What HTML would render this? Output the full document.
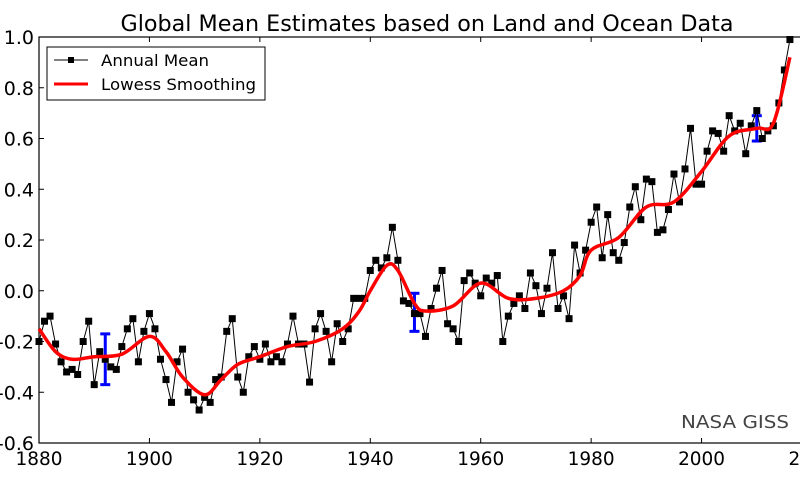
<!DOCTYPE html>
<html><head><meta charset="utf-8"><style>
html,body{margin:0;padding:0;background:#fff;}
svg{display:block;font-family:"DejaVu Sans","Liberation Sans",sans-serif;}
</style></head><body>
<svg id="chart" width="800" height="480" viewBox="0 0 800 480">
<text x="427" y="31" font-size="22" text-anchor="middle" textLength="613" lengthAdjust="spacingAndGlyphs">Global Mean Estimates based on Land and Ocean Data</text>
<g id="axes"></g>
<g id="err"></g>
<g id="annual"></g>
<g id="smooth"></g>
<text x="789" y="428" font-size="18" fill="#444" text-anchor="end" textLength="108" lengthAdjust="spacingAndGlyphs">NASA GISS</text>
<g>
<rect x="47" y="47" width="218" height="53" fill="#fff" stroke="#000" stroke-width="1"/>
<g>
<line x1="54" y1="60" x2="88" y2="60" stroke="#000" stroke-width="1"/>
<rect x="68" y="57" width="6" height="6" fill="#000"/>
<text x="101" y="66" font-size="16" textLength="108" lengthAdjust="spacingAndGlyphs">Annual Mean</text>
</g>
<g>
<line x1="54" y1="84" x2="88" y2="84" stroke="#f00" stroke-width="3"/>
<text x="101" y="90" font-size="16" textLength="155" lengthAdjust="spacingAndGlyphs">Lowess Smoothing</text>
</g>
</g>
</svg>
<script>
const annualStart = 1880;
const annualValues = [-0.20,-0.12,-0.10,-0.21,-0.28,-0.32,-0.31,-0.33,-0.20,-0.12,-0.37,-0.24,-0.27,-0.30,-0.31,-0.22,-0.15,-0.11,-0.28,-0.16,
-0.09,-0.15,-0.27,-0.35,-0.44,-0.28,-0.23,-0.40,-0.43,-0.47,-0.42,-0.44,-0.35,-0.34,-0.16,-0.11,-0.34,-0.40,-0.26,-0.22,
-0.27,-0.21,-0.28,-0.26,-0.28,-0.21,-0.10,-0.21,-0.21,-0.36,-0.15,-0.09,-0.16,-0.28,-0.13,-0.20,-0.15,-0.03,-0.03,-0.03,
0.08,0.12,0.09,0.13,0.25,0.12,-0.04,-0.05,-0.09,-0.09,-0.18,-0.07,0.01,0.08,-0.13,-0.15,-0.20,0.04,0.07,0.03,
-0.02,0.05,0.03,0.06,-0.20,-0.10,-0.05,-0.02,-0.07,0.07,0.02,-0.09,0.01,0.15,-0.07,-0.02,-0.11,0.18,0.07,0.16,
0.27,0.33,0.13,0.30,0.15,0.12,0.19,0.33,0.41,0.28,0.44,0.43,0.23,0.24,0.32,0.46,0.35,0.48,0.64,0.42,
0.42,0.55,0.63,0.62,0.55,0.69,0.63,0.66,0.54,0.65,0.71,0.60,0.63,0.65,0.74,0.87,0.99];
const lowessYears = [1880,1883,1886,1890,1895,1900,1903,1906,1910,1913,1916,1920,1925,1930,1935,1938,1940,1943,1945,1948,1950,1955,1960,1965,1970,1975,1978,1980,1985,1990,1995,2000,2005,2010,2013,2016];
const lowessValues = [-0.15,-0.24,-0.27,-0.26,-0.25,-0.18,-0.24,-0.34,-0.41,-0.35,-0.29,-0.26,-0.22,-0.20,-0.15,-0.08,0.00,0.10,0.08,-0.05,-0.08,-0.06,0.03,-0.03,-0.03,0.00,0.06,0.16,0.21,0.33,0.35,0.47,0.61,0.64,0.66,0.92];
const errYears = [1892,1948,2010];
const errLow = [-0.37,-0.16,0.59];
const errHigh = [-0.17,-0.01,0.69];
const xTicks = [1880,1900,1920,1940,1960,1980,2000,2020];
const yTicks = [-0.6,-0.4,-0.2,0.0,0.2,0.4,0.6,0.8,1.0];

const NS="http://www.w3.org/2000/svg";
const X0=39, X1=812, Y0=443, Y1=37;
function sx(v){return X0+(v-1880)/140*(X1-X0);}
function sy(v){return Y0-(v+0.6)/1.6*(Y0-Y1);}
function mk(tag,attrs,parent){const e=document.createElementNS(NS,tag);for(const k in attrs)e.setAttribute(k,attrs[k]);parent.appendChild(e);return e;}

const axes=document.getElementById('axes');
const frame=mk('rect',{x:X0,y:Y1,width:X1-X0,height:Y0-Y1,fill:'none',stroke:'#000','stroke-width':1.2},axes);


xTicks.forEach(t=>{
  const x=sx(t);
  mk('line',{x1:x,y1:Y0,x2:x,y2:Y0-5,stroke:'#000'},axes);
  mk('line',{x1:x,y1:Y1,x2:x,y2:Y1+5,stroke:'#000'},axes);
  const tx=mk('text',{x:x,y:465,'font-size':19,'text-anchor':'middle',textLength:47,lengthAdjust:'spacingAndGlyphs'},axes);
  tx.textContent=String(t);
  
  
});
yTicks.forEach(t=>{
  const y=sy(t);
  mk('line',{x1:X0,y1:y,x2:X0+5,y2:y,stroke:'#000'},axes);
  const tx=mk('text',{x:34,y:y+7,'font-size':19,'text-anchor':'end'},axes);
  tx.textContent=t.toFixed(1);
  
  
});

const ann=document.getElementById('annual');
const pts=annualValues.map((v,i)=>[sx(annualStart+i),sy(v)]);
const pl=mk('polyline',{points:pts.map(p=>p.join(',')).join(' '),fill:'none',stroke:'#000','stroke-width':1},ann);


pts.forEach(p=>{
  const r=mk('rect',{x:p[0]-3.5,y:p[1]-3.5,width:7,height:7,fill:'#000'},ann);
  
  
});

const err=document.getElementById('err');
errYears.forEach((yr,i)=>{
  const x=sx(yr),a=sy(errLow[i]),b=sy(errHigh[i]);
  const g=mk('g',{stroke:'#00f','stroke-width':3},err);
  
  
  mk('line',{x1:x,y1:a,x2:x,y2:b},g);
  mk('line',{x1:x-5,y1:a,x2:x+5,y2:a},g);
  mk('line',{x1:x-5,y1:b,x2:x+5,y2:b},g);
});

const sp=lowessYears.map((yr,i)=>[sx(yr),sy(lowessValues[i])]);
let d='M'+sp[0].join(',');
for(let i=0;i<sp.length-1;i++){
  const p0=sp[i-1]||sp[i],p1=sp[i],p2=sp[i+1],p3=sp[i+2]||p2;
  const c1=[p1[0]+(p2[0]-p0[0])/6,p1[1]+(p2[1]-p0[1])/6];
  const c2=[p2[0]-(p3[0]-p1[0])/6,p2[1]-(p3[1]-p1[1])/6];
  d+=' C'+c1.join(',')+' '+c2.join(',')+' '+p2.join(',');
}
const sm=mk('path',{d:d,fill:'none',stroke:'#f00','stroke-width':3.5,'stroke-linejoin':'round'},document.getElementById('smooth'));


</script>
</body></html>
